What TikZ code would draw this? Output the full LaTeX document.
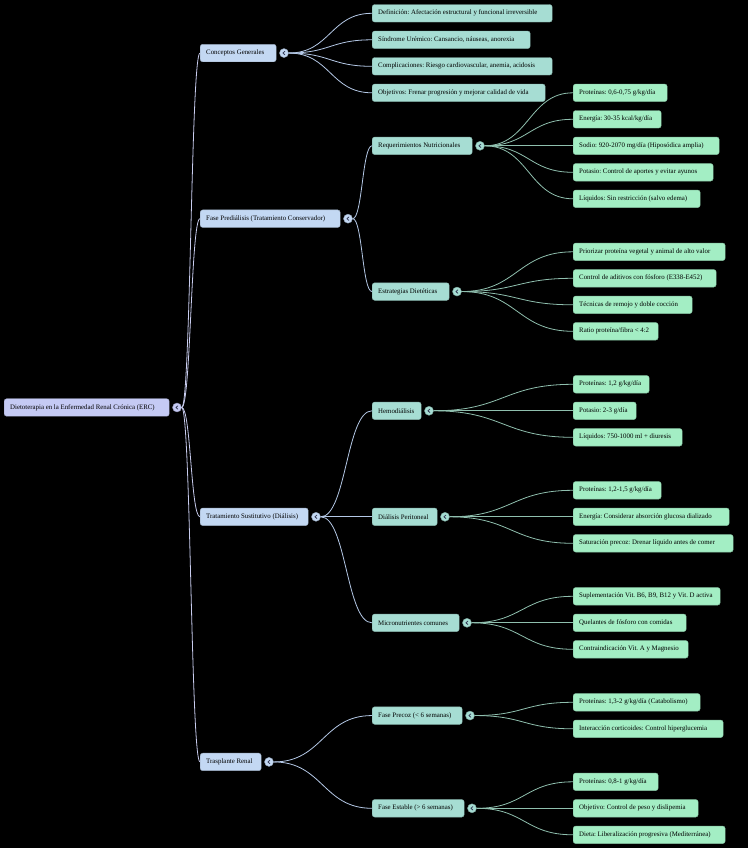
\documentclass[tikz,border=0pt]{standalone}
\usepackage{fontspec}
\setmainfont{Liberation Serif}
\usetikzlibrary{calc}
\definecolor{rootfill}{HTML}{C5CAF4}
\definecolor{lonefill}{HTML}{C3D8F3}
\definecolor{ltwofill}{HTML}{A6DDD3}
\definecolor{lthreefill}{HTML}{A3EEC4}
\definecolor{linea}{HTML}{C8CCEE}
\definecolor{lineb}{HTML}{B4C8E6}
\definecolor{linec}{HTML}{8FBFAE}
\definecolor{chev}{HTML}{2E3450}
\newcommand\mmnode[6]{\node[#1, minimum width=#5pt] (#2) at (#3,{13.3+26.5*#4}) {\makebox[\dimexpr #5pt-12pt\relax][l]{#6}};}
\newcommand\mmtog[2]{\node[tog, fill=#2, draw=#2!75!black] (c#1) at ([xshift=7.6pt]#1.east) {};}
\newcommand\lnk[3]{\draw[#1] let \p1=(#2.east), \p2=(#3.west) in (\p1) .. controls ({(\x1+\x2)/2},\y1) and ({(\x1+\x2)/2},\y2) .. (\p2);}
\begin{document}
\frenchspacing
\begin{tikzpicture}[x=1pt,y=-1pt,
  box/.style={rectangle, rounded corners=2.5pt, minimum height=17.5pt, inner xsep=6pt, inner ysep=0pt, anchor=west, font=\fontsize{6.85}{8.5}\selectfont, text=black, line width=0.4pt},
  lzero/.style={box, fill=rootfill, draw=rootfill!80!black},
  lone/.style={box, fill=lonefill, draw=lonefill!80!black},
  ltwo/.style={box, fill=ltwofill, draw=ltwofill!80!black},
  lthree/.style={box, fill=lthreefill, draw=lthreefill!80!black},
  tog/.style={circle, minimum size=9pt, inner sep=0pt, line width=0.4pt,
    path picture={\draw[line width=0.75pt, chev, line cap=round, line join=round] ([shift={(0.9pt,-1.7pt)}]path picture bounding box.center) -- ++(-2pt,1.7pt) -- ++(2pt,1.7pt);}},
  cona/.style={draw=linea, line width=0.8pt},
  conb/.style={draw=lineb, line width=0.8pt},
  conc/.style={draw=linec, line width=0.8pt}]
\fill[black] (0,0) rectangle (748,848);
\useasboundingbox (0,0) rectangle (748,848);
% root
\mmnode{lzero}{root}{4}{14.875}{165}{Dietoterapia en la Enfermedad Renal Crónica (ERC)}
% level 1
\mmnode{lone}{cg}{200}{1.5}{76}{Conceptos Generales}
\mmnode{lone}{fp}{200}{7.75}{140}{Fase Prediálisis (Tratamiento Conservador)}
\mmnode{lone}{ts}{200}{19}{108}{Tratamiento Sustitutivo (Diálisis)}
\mmnode{lone}{tr}{200}{28.25}{61}{Trasplante Renal}
% level 2
\mmnode{ltwo}{d1}{372}{0}{180}{Definición: Afectación estructural y funcional irreversible}
\mmnode{ltwo}{d2}{372}{1}{158}{Síndrome Urémico: Cansancio, náuseas, anorexia}
\mmnode{ltwo}{d3}{372}{2}{180}{Complicaciones: Riesgo cardiovascular, anemia, acidosis}
\mmnode{ltwo}{d4}{372}{3}{173}{Objetivos: Frenar progresión y mejorar calidad de vida}
\mmnode{ltwo}{rn}{372}{5}{100}{Requerimientos Nutricionales}
\mmnode{ltwo}{ed}{372}{10.5}{77}{Estrategias Dietéticas}
\mmnode{ltwo}{hd}{372}{15}{49}{Hemodiálisis}
\mmnode{ltwo}{dp}{372}{19}{65}{Diálisis Peritoneal}
\mmnode{ltwo}{mc}{372}{23}{87}{Micronutrientes comunes}
\mmnode{ltwo}{pc}{372}{26.5}{90}{Fase Precoz (< 6 semanas)}
\mmnode{ltwo}{fe}{372}{30}{92}{Fase Estable (> 6 semanas)}
% level 3
\mmnode{lthree}{r1}{573}{3}{94}{Proteínas: 0,6-0,75 g/kg/día}
\mmnode{lthree}{r2}{573}{4}{88}{Energía: 30-35 kcal/kg/día}
\mmnode{lthree}{r3}{573}{5}{146}{Sodio: 920-2070 mg/día (Hiposódica amplia)}
\mmnode{lthree}{r4}{573}{6}{140}{Potasio: Control de aportes y evitar ayunos}
\mmnode{lthree}{r5}{573}{7}{127}{Líquidos: Sin restricción (salvo edema)}
\mmnode{lthree}{e1}{573}{9}{152}{Priorizar proteína vegetal y animal de alto valor}
\mmnode{lthree}{e2}{573}{10}{143}{Control de aditivos con fósforo (E338-E452)}
\mmnode{lthree}{e3}{573}{11}{119}{Técnicas de remojo y doble cocción}
\mmnode{lthree}{e4}{573}{12}{85}{Ratio proteína/fibra < 4:2}
\mmnode{lthree}{h1}{573}{14}{76}{Proteínas: 1,2 g/kg/día}
\mmnode{lthree}{h2}{573}{15}{63}{Potasio: 2-3 g/día}
\mmnode{lthree}{h3}{573}{16}{109}{Líquidos: 750-1000 ml + diuresis}
\mmnode{lthree}{p1}{573}{18}{88}{Proteínas: 1,2-1,5 g/kg/día}
\mmnode{lthree}{p2}{573}{19}{156}{Energía: Considerar absorción glucosa dializado}
\mmnode{lthree}{p3}{573}{20}{160}{Saturación precoz: Drenar líquido antes de comer}
\mmnode{lthree}{m1}{573}{22}{147}{Suplementación Vit. B6, B9, B12 y Vit. D activa}
\mmnode{lthree}{m2}{573}{23}{113}{Quelantes de fósforo con comidas}
\mmnode{lthree}{m3}{573}{24}{115}{Contraindicación Vit. A y Magnesio}
\mmnode{lthree}{f1}{573}{26}{127}{Proteínas: 1,3-2 g/kg/día (Catabolismo)}
\mmnode{lthree}{f2}{573}{27}{150}{Interacción corticoides: Control hiperglucemia}
\mmnode{lthree}{s1}{573}{29}{85}{Proteínas: 0,8-1 g/kg/día}
\mmnode{lthree}{s2}{573}{30}{125}{Objetivo: Control de peso y dislipemia}
\mmnode{lthree}{s3}{573}{31}{152}{Dieta: Liberalización progresiva (Mediterránea)}
% toggles
\mmtog{root}{rootfill}
\mmtog{cg}{lonefill}
\mmtog{fp}{lonefill}
\mmtog{ts}{lonefill}
\mmtog{tr}{lonefill}
\mmtog{rn}{ltwofill}
\mmtog{ed}{ltwofill}
\mmtog{hd}{ltwofill}
\mmtog{dp}{ltwofill}
\mmtog{mc}{ltwofill}
\mmtog{pc}{ltwofill}
\mmtog{fe}{ltwofill}
% connectors
\lnk{cona}{croot}{cg}
\lnk{cona}{croot}{fp}
\lnk{cona}{croot}{ts}
\lnk{cona}{croot}{tr}
\lnk{conb}{ccg}{d1}
\lnk{conb}{ccg}{d2}
\lnk{conb}{ccg}{d3}
\lnk{conb}{ccg}{d4}
\lnk{conb}{cfp}{rn}
\lnk{conb}{cfp}{ed}
\lnk{conb}{cts}{hd}
\lnk{conb}{cts}{dp}
\lnk{conb}{cts}{mc}
\lnk{conb}{ctr}{pc}
\lnk{conb}{ctr}{fe}
\lnk{conc}{crn}{r1}
\lnk{conc}{crn}{r2}
\lnk{conc}{crn}{r3}
\lnk{conc}{crn}{r4}
\lnk{conc}{crn}{r5}
\lnk{conc}{ced}{e1}
\lnk{conc}{ced}{e2}
\lnk{conc}{ced}{e3}
\lnk{conc}{ced}{e4}
\lnk{conc}{chd}{h1}
\lnk{conc}{chd}{h2}
\lnk{conc}{chd}{h3}
\lnk{conc}{cdp}{p1}
\lnk{conc}{cdp}{p2}
\lnk{conc}{cdp}{p3}
\lnk{conc}{cmc}{m1}
\lnk{conc}{cmc}{m2}
\lnk{conc}{cmc}{m3}
\lnk{conc}{cpc}{f1}
\lnk{conc}{cpc}{f2}
\lnk{conc}{cfe}{s1}
\lnk{conc}{cfe}{s2}
\lnk{conc}{cfe}{s3}
\end{tikzpicture}
\end{document}
